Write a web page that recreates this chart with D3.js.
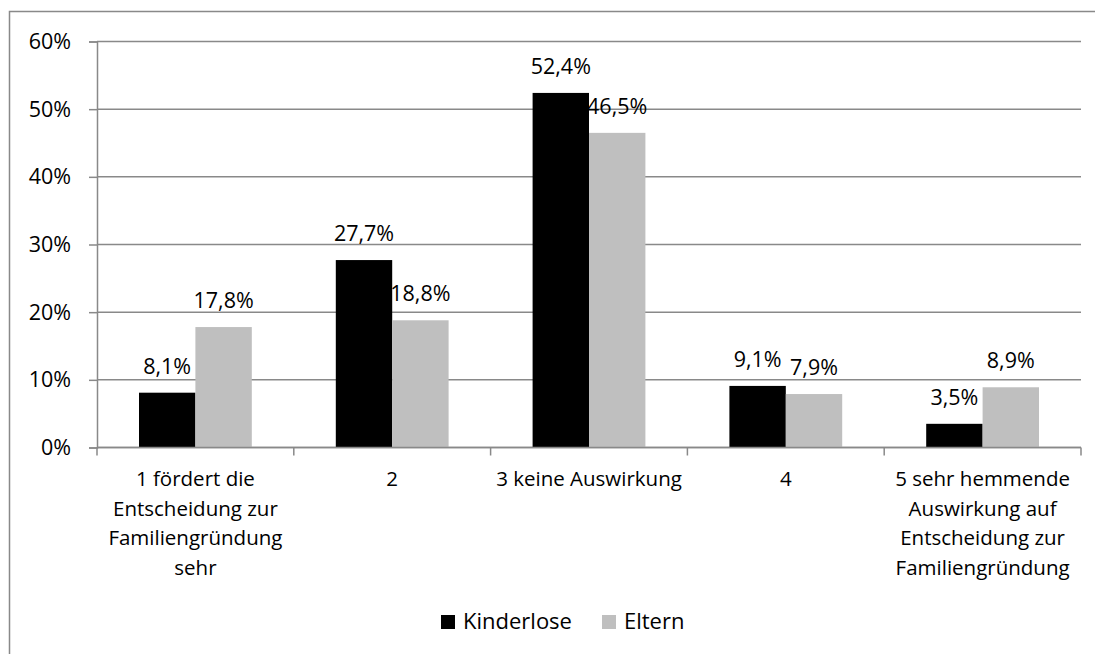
<!DOCTYPE html>
<html><head><meta charset="utf-8">
<script src="https://cdn.jsdelivr.net/npm/d3@7"></script>
<style>body{margin:0;background:#fff}svg{display:block}text{font-family:"Open Sans",sans-serif;fill:#000}</style>
</head><body><svg id="c" width="1095" height="654"></svg>
<script>
const categories = [
  ["1 fördert die","Entscheidung zur","Familiengründung","sehr"],
  ["2"],
  ["3 keine Auswirkung"],
  ["4"],
  ["5 sehr hemmende","Auswirkung auf","Entscheidung zur","Familiengründung"]
];
const seriesNames = ["Kinderlose","Eltern"];
const seriesColors = ["#000000","#bfbfbf"];
const kinderlose = [8.1, 27.7, 52.4, 9.1, 3.5];
const eltern = [17.8, 18.8, 46.5, 7.9, 8.9];
const yTicks = [0,10,20,30,40,50,60];

const svg = d3.select("#c");
const L=97, R=1081, T=41.5, B=447.5;
const fsNum = 21.5, fsCat = 20.5, fsLeg = 22;
const grid = "#898989";

svg.append("rect").attr("x",9.5).attr("y",11.5).attr("width",1200).attr("height",800)
  .attr("fill","none").attr("stroke",grid).attr("stroke-width",1.5);

const x = d3.scaleBand().domain(d3.range(categories.length)).range([L,R]).paddingInner(0).paddingOuter(0);
const inner = d3.scaleBand().domain([0,1]).range([42, x.bandwidth()-42]);
const y = d3.scaleLinear().domain([0,60]).range([B,T]);

// gridlines
svg.append("g").selectAll("line").data(yTicks).join("line")
  .attr("x1",L).attr("x2",R).attr("y1",d=>y(d)).attr("y2",d=>y(d))
  .attr("stroke",grid).attr("stroke-width",1.5);

// y axis
const ya = svg.append("g").attr("transform",`translate(${L},0)`)
  .call(d3.axisLeft(y).tickValues(yTicks).tickFormat(d=>d+"%").tickSize(8).tickPadding(18));
ya.select(".domain").attr("stroke",grid).attr("stroke-width",1.5);
ya.selectAll(".tick line").attr("stroke",grid).attr("stroke-width",1.5);
ya.selectAll(".tick text").style("font-family","'Open Sans',sans-serif").style("font-size",fsNum+"px").attr("fill","#000");

// bars
const series = [kinderlose, eltern];
series.forEach((vals,si)=>{
  const g = svg.append("g");
  g.selectAll("rect").data(vals).join("rect")
    .attr("x",(d,i)=>x(i)+inner(si)).attr("width",inner.bandwidth())
    .attr("y",d=>y(d)).attr("height",d=>B-y(d)).attr("fill",seriesColors[si]);
  g.selectAll("text").data(vals).join("text")
    .attr("x",(d,i)=>x(i)+inner(si)+inner.bandwidth()/2)
    .attr("y",d=>y(d)-19).attr("text-anchor","middle").style("font-size",fsNum+"px")
    .text(d=>d.toFixed(1).replace(".",",")+"%");
});

// x axis
const xa = svg.append("g").attr("transform",`translate(0,${B})`);
xa.append("line").attr("x1",L).attr("x2",R).attr("stroke",grid).attr("stroke-width",1.5);
xa.selectAll("line.t").data(d3.range(categories.length+1)).join("line").attr("class","t")
  .attr("x1",i=>L+i*x.bandwidth()).attr("x2",i=>L+i*x.bandwidth()).attr("y1",0).attr("y2",8)
  .attr("stroke",grid).attr("stroke-width",1.5);
categories.forEach((lines,i)=>{
  const t = svg.append("text").attr("text-anchor","middle").style("font-size",fsCat+"px");
  lines.forEach((ln,j)=>t.append("tspan").attr("x",x(i)+x.bandwidth()/2).attr("y",486+j*29.5).text(ln));
});

// legend
const leg = svg.append("g");
const lx = [441, 602];
seriesNames.forEach((n,i)=>{
  leg.append("rect").attr("x",lx[i]).attr("y",615).attr("width",14).attr("height",14).attr("fill",seriesColors[i]);
  leg.append("text").attr("x",lx[i]+22).attr("y",629).style("font-size",fsLeg+"px").text(n);
});
</script></body></html>
